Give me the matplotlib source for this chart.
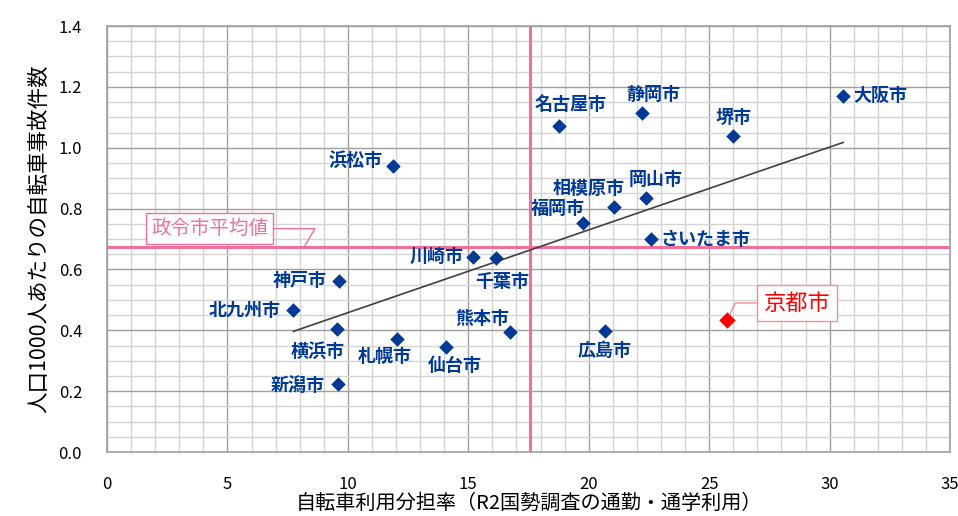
import numpy as np
import matplotlib
matplotlib.use('Agg')
from matplotlib import pyplot as plt
from matplotlib.ticker import MultipleLocator

plt.rcParams['font.family'] = ['Noto Sans CJK JP', 'DejaVu Sans']

# data (x: bicycle share %, y: accidents per 1000 people)
cities = ['大阪市', '堺市', '静岡市', '名古屋市', '岡山市', '相模原市', '福岡市', 'さいたま市',
          '浜松市', '川崎市', '千葉市', '神戸市', '北九州市', '横浜市', '札幌市', '仙台市',
          '新潟市', '熊本市', '広島市']
share = [30.56, 26.0, 22.2, 18.75, 22.37, 21.05, 19.78, 22.6,
         11.88, 15.2, 16.17, 9.64, 7.74, 9.56, 12.02, 14.07,
         9.59, 16.75, 20.68]
rate = [1.170, 1.038, 1.115, 1.072, 0.835, 0.804, 0.753, 0.699,
        0.941, 0.642, 0.636, 0.563, 0.466, 0.404, 0.372, 0.344,
        0.223, 0.394, 0.399]

kyoto_share = 25.75
kyoto_rate = 0.434

avg_share = 17.56
avg_rate = 0.675

# label offsets in pixels (dx, dy, ha)
label_pos = {
    '大阪市': (10, 0, 'left'), '堺市': (0, 19, 'center'), '静岡市': (12, 18, 'center'),
    '名古屋市': (12, 21, 'center'), '岡山市': (10, 18, 'center'), '相模原市': (-25, 19, 'center'),
    '福岡市': (-26, 14, 'center'), 'さいたま市': (9, 0, 'left'), '浜松市': (-11, 5, 'right'),
    '川崎市': (-10, 0, 'right'), '千葉市': (6, -23, 'center'), '神戸市': (-12, 0, 'right'),
    '北九州市': (-13, 0, 'right'), '横浜市': (-20, -22, 'center'), '札幌市': (-12, -18, 'center'),
    '仙台市': (9, -18, 'center'), '新潟市': (-13, -1, 'right'), '熊本市': (-28, 14, 'center'),
    '広島市': (0, -20, 'center'),
}

blue = '#003A96'
pink = '#EF7199'

fig = plt.figure(figsize=(9.58, 5.16), dpi=100)
ax = fig.add_axes([0.1117, 0.124, 0.88, 0.8256])

ax.set_xlim(0, 35)
ax.set_ylim(0, 1.4)
ax.xaxis.set_major_locator(MultipleLocator(5))
ax.xaxis.set_minor_locator(MultipleLocator(1))
ax.yaxis.set_major_locator(MultipleLocator(0.2))
ax.yaxis.set_minor_locator(MultipleLocator(0.05))
ax.grid(which='minor', color='#d4d4d4', lw=1.0)
ax.grid(which='major', color='#a0a0a0', lw=1.0)
ax.set_axisbelow(True)
ax.tick_params(which='both', length=0)
ax.tick_params(axis='x', labelsize=12, pad=17)
ax.tick_params(axis='y', labelsize=12, pad=18)
ax.yaxis.set_major_formatter(matplotlib.ticker.FormatStrFormatter('%.1f'))
for s in ax.spines.values():
    s.set_color('#a0a0a0')
    s.set_linewidth(1.2)

# average lines
ax.axvline(avg_share, color=pink, lw=2.2, zorder=2)
ax.axhline(avg_rate, color=pink, lw=2.2, zorder=2)

# linear trend over all 20 cities (Kyoto included)
all_x = share + [kyoto_share]
all_y = rate + [kyoto_rate]
coef = np.polyfit(all_x, all_y, 1)
tx = np.array([min(all_x), max(all_x)])
ax.plot(tx, np.polyval(coef, tx), color='#404040', lw=1.2, zorder=3)

ax.scatter(share, rate, marker='D', s=55, color=blue, zorder=4, linewidths=0)
for c, x, y in zip(cities, share, rate):
    dx, dy, ha = label_pos[c]
    ax.annotate(c, (x, y), xytext=(dx, dy), textcoords='offset pixels',
                ha=ha, va='center', fontsize=13, fontweight='bold', color=blue, zorder=5)

# Kyoto
ax.scatter([kyoto_share], [kyoto_rate], marker='D', s=70, color='#FF0000', zorder=4, linewidths=0)
ax.annotate('京都市', (kyoto_share, kyoto_rate), xytext=(70, 17), textcoords='offset pixels',
            ha='center', va='center', fontsize=16, color='#FF0000', zorder=6,
            bbox=dict(boxstyle='square,pad=0.3', fc='white', ec='#F59090', lw=1),
            arrowprops=dict(arrowstyle='-', color='#F59090', lw=1,
                            connectionstyle='angle,angleA=0,angleB=65,rad=0',
                            shrinkA=0, shrinkB=4))

# average label
ax.annotate('政令市平均値', (8.2, avg_rate), xytext=(-95, 18), textcoords='offset pixels',
            ha='center', va='center', fontsize=14, color=pink, zorder=6,
            bbox=dict(boxstyle='square,pad=0.25', fc='white', ec=pink, lw=1),
            arrowprops=dict(arrowstyle='-', color=pink, lw=1,
                            connectionstyle='angle,angleA=0,angleB=60,rad=0',
                            shrinkA=0, shrinkB=0))

ax.set_xlabel('自転車利用分担率（R2国勢調査の通勤・通学利用）', fontsize=14.5, labelpad=0)
ax.set_ylabel('人口1000人あたりの自転車事故件数', fontsize=15.5, labelpad=6)

fig.savefig('out.png', dpi=100)
